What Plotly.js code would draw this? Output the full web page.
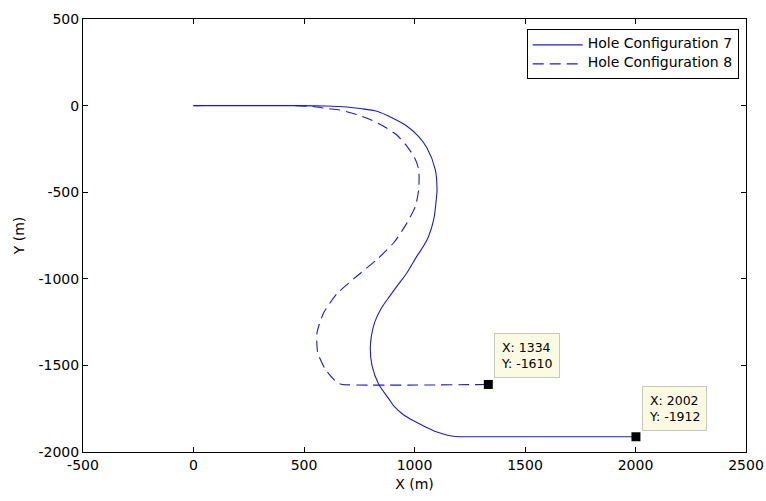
<!DOCTYPE html>
<html>
<head>
<meta charset="utf-8">
<script src="https://cdn.plot.ly/plotly-3.0.1.min.js"></script>
<style>html,body{margin:0;padding:0;background:#fff;}#chart{width:766px;height:501px;}</style>
</head>
<body>
<div id="chart"></div>
<script>
// Hole Configuration 7 (solid)
var config7X = [0, 450, 600, 695, 755, 830, 900, 966, 1020, 1056, 1094, 1102, 1100, 1087, 1064, 1041, 1011, 966, 925, 888, 850, 820, 805, 800, 808, 838, 885, 906, 950, 996, 1050, 1102, 1150, 1200, 1230, 2002];
var config7Y = [0, 0, -2, -8, -17, -33, -72, -119, -180, -244, -369, -484, -523, -657, -754, -811, -869, -965, -1035, -1100, -1170, -1250, -1330, -1407, -1503, -1609, -1695, -1734, -1785, -1820, -1855, -1885, -1903, -1912, -1912, -1912];
// Hole Configuration 8 (dashed)
var config8X = [0, 450, 540, 604, 660, 740, 800, 860, 920, 966, 1000, 1019, 1019, 1004, 966, 906, 830, 740, 650, 589, 559, 562, 597, 650, 675, 1334];
var config8Y = [0, 0, -5, -17, -25, -52, -80, -119, -170, -235, -300, -369, -484, -581, -677, -792, -888, -984, -1085, -1196, -1311, -1426, -1523, -1600, -1610, -1610];
// Data tips
var tipX = [1334, 2002];
var tipY = [-1610, -1912];
// Axis ticks
var xTickVals = [-500, 0, 500, 1000, 1500, 2000, 2500];
var xTickText = ["-500", "0", "500", "1000", "1500", "2000", "2500"];
var yTickVals = [500, 0, -500, -1000, -1500, -2000];
var yTickText = ["500", "0", "-500", "-1000", "-1500", "-2000"];
var seriesNames = ["Hole Configuration 7", "Hole Configuration 8"];

var lineColor = '#1c1cc8';
var font = 'DejaVu Sans, sans-serif';

function legendLabel(s){ return '<span style="font-size:14px">' + s + '</span>'; }

var traces = [
  {x: config7X, y: config7Y, mode: 'lines', name: legendLabel(seriesNames[0]),
   line: {color: lineColor, width: 1.1, shape: 'spline', smoothing: 0.8}},
  {x: config8X, y: config8Y, mode: 'lines', name: legendLabel(seriesNames[1]),
   line: {color: lineColor, width: 1.1, dash: '11px,6px', shape: 'spline', smoothing: 0.6}},
  {x: tipX, y: tipY, mode: 'markers', showlegend: false, marker: {symbol: 'square', size: 9, color: '#000'}}
];

var annotations = tipX.map(function(xv, i){
  return {
    x: xv, y: tipY[i], xref: 'x', yref: 'y',
    text: 'X: ' + xv + '<br>Y: ' + String(tipY[i]),
    showarrow: false, xanchor: 'left', yanchor: 'bottom', align: 'left',
    xshift: 6, yshift: 6,
    bgcolor: '#fbfbe4', bordercolor: '#c8c8b8', borderwidth: 1, borderpad: 6,
    font: {family: font, size: 12.5, color: '#000'}
  };
});

var axisCommon = {
  showline: true, linecolor: '#000', linewidth: 1, mirror: 'ticks',
  ticks: 'inside', ticklen: 5, tickcolor: '#000', tickwidth: 1,
  showgrid: false, zeroline: false,
  tickfont: {family: font, size: 14, color: '#000'}
};

var layout = {
  width: 766, height: 501,
  margin: {l: 83, r: 20, t: 19, b: 49},
  paper_bgcolor: '#fff', plot_bgcolor: '#fff',
  showlegend: true,
  legend: {
    x: 0.989, y: 0.976, xanchor: 'right', yanchor: 'top',
    bordercolor: '#000', borderwidth: 1, bgcolor: '#fff',
    font: {family: font, size: 7, color: '#000'},
    itemwidth: 50, tracegroupgap: 0
  },
  xaxis: Object.assign({}, axisCommon, {
    range: [-500, 2500], tickmode: 'array', tickvals: xTickVals, ticktext: xTickText,
    title: {text: 'X (m)', font: {family: font, size: 14, color: '#000'}, standoff: 7}
  }),
  yaxis: Object.assign({}, axisCommon, {
    range: [-2000, 500], tickmode: 'array', tickvals: yTickVals, ticktext: yTickText,
    title: {text: 'Y (m)', font: {family: font, size: 14, color: '#000'}, standoff: 10}
  }),
  annotations: annotations
};

Plotly.newPlot('chart', traces, layout, {displayModeBar: false, staticPlot: true});
</script>
</body>
</html>
